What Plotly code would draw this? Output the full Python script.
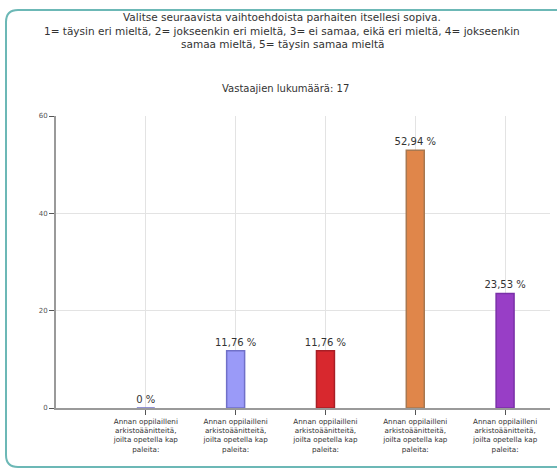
import plotly.graph_objects as go

# ---- data ----
categories = [
    "Annan oppilailleni<br>arkistoäänitteitä,<br>joilta opetella kap<br>paleita:",
] * 5
values = [0.0, 11.76, 11.76, 52.94, 23.53]
value_labels = ["0 %", "11,76 %", "11,76 %", "52,94 %", "23,53 %"]
bar_colors = ["#9a9af8", "#9a9af8", "#d8282e", "#e0864a", "#983ec6"]
border_colors = ["#7070c8", "#7070c8", "#a81f26", "#a87850", "#7a30a8"]
y_ticks = [0, 20, 40, 60]

title_lines = [
    "Valitse seuraavista vaihtoehdoista parhaiten itsellesi sopiva.",
    "1= täysin eri mieltä, 2= jokseenkin eri mieltä, 3= ei samaa, eikä eri mieltä, 4= jokseenkin",
    "samaa mieltä, 5= täysin samaa mieltä",
]
subtitle = "Vastaajien lukumäärä: 17"

W, H = 557, 469
L, R, T, B = 56, 7, 116, 61
pw, ph = W - L - R, H - T - B


def px_x(p):
    return (p - L) / pw


def px_y(p):
    return (H - B - p) / ph


positions = list(range(len(values)))

fig = go.Figure()
fig.add_trace(go.Bar(
    x=positions,
    y=values,
    width=0.2,
    marker=dict(color=bar_colors, line=dict(color=border_colors, width=1.5)),
    text=value_labels,
    textposition="outside",
    constraintext="none",
    textfont=dict(family="DejaVu Sans", size=10, color="#333333"),
    cliponaxis=False,
    hoverinfo="skip",
))

font = "DejaVu Sans"
fig.update_layout(
    width=W, height=H,
    margin=dict(l=L, r=R, t=T, b=B, autoexpand=False),
    paper_bgcolor="white",
    plot_bgcolor="white",
    showlegend=False,
    xaxis=dict(
        range=[-1, 4.5],
        tickvals=positions,
        ticktext=categories,
        tickfont=dict(family=font, size=7.2, color="#333333"),
        ticks="outside", ticklen=5, tickcolor="#555555", tickwidth=1,
        showgrid=True, gridcolor="#e3e3e3", gridwidth=1,
        showline=True, linecolor="#9a9a9a", linewidth=2,
        zeroline=False, fixedrange=True, automargin=False,
    ),
    yaxis=dict(
        range=[0, 60],
        tickvals=y_ticks,
        tickfont=dict(family=font, size=7, color="#555555"),
        ticks="outside", ticklen=5, tickcolor="#555555", tickwidth=1,
        showgrid=True, gridcolor="#e3e3e3", gridwidth=1,
        showline=True, linecolor="#9a9a9a", linewidth=2,
        zeroline=False, fixedrange=True, automargin=False,
    ),
)

# title lines
for i, line in enumerate(title_lines):
    fig.add_annotation(
        text=line, xref="paper", yref="paper",
        x=px_x(282), y=px_y(17 + i * 13.7),
        xanchor="center", yanchor="middle", showarrow=False,
        font=dict(family=font, size=10.5, color="#333333"),
    )
fig.add_annotation(
    text=subtitle, xref="paper", yref="paper",
    x=px_x(285), y=px_y(88),
    xanchor="center", yanchor="middle", showarrow=False,
    font=dict(family=font, size=10, color="#333333"),
)

# rounded frame
x0, xr = px_x(6), px_x(W + 20)
yt, yb = px_y(10), px_y(467)
rx, ry = 12 / pw, 12 / ph
path = (
    f"M {xr},{yt} L {x0 + rx},{yt} Q {x0},{yt} {x0},{yt - ry} "
    f"L {x0},{yb + ry} Q {x0},{yb} {x0 + rx},{yb} L {xr},{yb}"
)
fig.add_shape(type="path", path=path, xref="paper", yref="paper",
              line=dict(color="#6cb8b6", width=2), layer="below")

fig.write_html(
    "out.html",
    config={"displayModeBar": False, "staticPlot": True},
    post_script="document.body.style.margin='0';document.body.style.overflow='hidden';",
)
